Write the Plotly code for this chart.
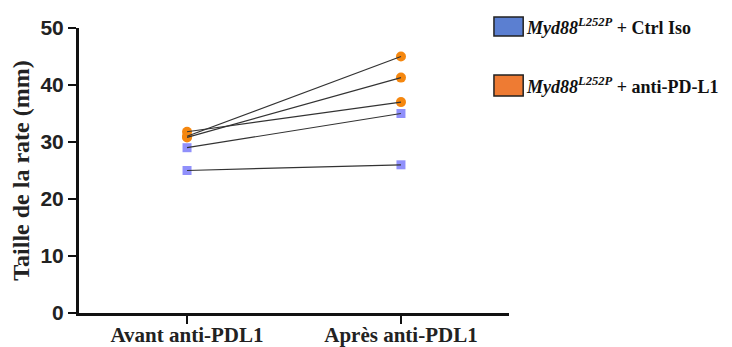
import plotly.graph_objects as go

categories = ["Avant anti-PDL1", "Après anti-PDL1"]
ctrl_avant = [25.0, 29.0]
ctrl_apres = [26.0, 35.0]
anti_avant = [31.8, 31.0, 30.8]
anti_apres = [37.0, 45.0, 41.3]
y_ticks = [0, 10, 20, 30, 40, 50]
legend_labels = ["<i>Myd88</i><sup><i>L252P</i></sup> + Ctrl Iso",
                 "<i>Myd88</i><sup><i>L252P</i></sup> + anti-PD-L1"]

SERIF = "Liberation Serif, Times New Roman, serif"
SANS = "Liberation Sans, Arial, sans-serif"
sq_color = "rgba(125,125,250,0.85)"
or_color = "#F5870F"

fig = go.Figure()
# markers first, lines on top
for a, b in zip(ctrl_avant, ctrl_apres):
    fig.add_trace(go.Scatter(x=categories, y=[a, b], mode="markers",
                             marker=dict(symbol="square", size=9, color=sq_color),
                             showlegend=False, hoverinfo="skip"))
for a, b in zip(anti_avant, anti_apres):
    fig.add_trace(go.Scatter(x=categories, y=[a, b], mode="markers",
                             marker=dict(symbol="circle", size=10, color=or_color),
                             showlegend=False, hoverinfo="skip"))
for a, b in list(zip(ctrl_avant, ctrl_apres)) + list(zip(anti_avant, anti_apres)):
    fig.add_trace(go.Scatter(x=categories, y=[a, b], mode="lines",
                             line=dict(color="#333333", width=1.2),
                             showlegend=False, hoverinfo="skip"))

# custom legend
sw_colors = ["#5B7FD1", "#EE7B33"]
sw_y = [(1.0386, 0.972), (0.835, 0.761)]
for (y1, y0), c, lab in zip(sw_y, sw_colors, legend_labels):
    fig.add_shape(type="rect", xref="paper", yref="paper",
                  x0=0.965, x1=1.033, y0=y0, y1=y1,
                  fillcolor=c, line=dict(color="#222222", width=1.5))
    fig.add_annotation(xref="paper", yref="paper", x=1.036, y=(y0 + y1) / 2,
                       xanchor="left", yanchor="middle", showarrow=False,
                       text="<b>" + lab + "</b>",
                       font=dict(family=SERIF, size=18, color="#111111"))

# page body has an 8px offset, so margins are reduced by 8px
fig.update_layout(
    width=724, height=339,
    margin=dict(l=71, r=223, t=20, b=34, autoexpand=False),
    paper_bgcolor="white", plot_bgcolor="white",
    showlegend=False,
)
fig.update_xaxes(type="category", range=[-0.505, 1.505], automargin=False,
                 showline=True, linecolor="#111111", linewidth=3,
                 ticks="outside", ticklen=8, tickwidth=2, tickcolor="#111111",
                 showgrid=False, zeroline=False, ticklabelstandoff=-7,
                 tickfont=dict(family=SERIF, size=21, color="#222222"),
                 ticktext=["<b>" + c + "</b>" for c in categories],
                 tickvals=categories)
fig.update_yaxes(range=[0, 50], tickvals=y_ticks, automargin=False,
                 ticktext=["<b>%d</b>" % v for v in y_ticks],
                 showline=True, linecolor="#111111", linewidth=3,
                 ticks="outside", ticklen=8, tickwidth=2, tickcolor="#111111",
                 showgrid=False, zeroline=False,
                 tickfont=dict(family=SANS, size=21, color="#222222"),
                 title=dict(text="<b>Taille de la rate (mm)</b>", standoff=6,
                            font=dict(family=SERIF, size=24, color="#222222")))

fig.write_html("out.html")
